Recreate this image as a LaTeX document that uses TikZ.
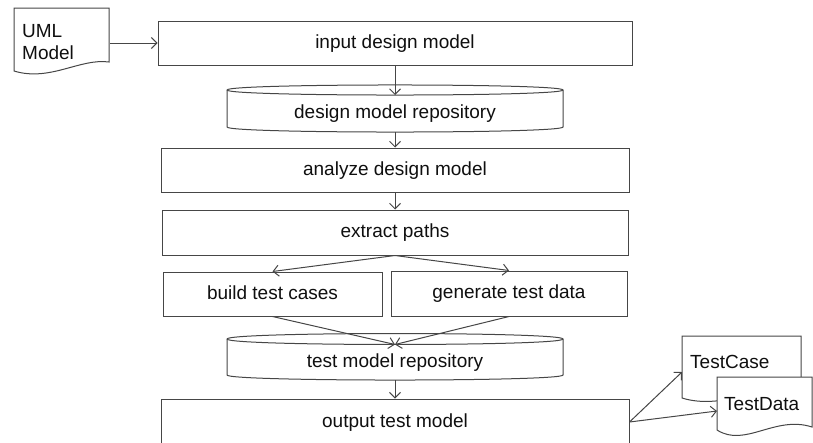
\documentclass[tikz,border=0pt]{standalone}
\usepackage{fontspec}
\setmainfont{Liberation Sans}
\usetikzlibrary{arrows.meta,calc}
\definecolor{linegray}{RGB}{70,70,70}
\definecolor{txt}{RGB}{15,15,15}
\begin{document}
\begin{tikzpicture}[x=1pt,y=-1pt,
  line/.style={draw=linegray, line width=1pt},
  lbl/.style={text=txt, font=\fontsize{19}{21}\selectfont, text height=14pt, text depth=4pt, inner sep=0pt},
  box/.style={lbl, line, fill=white, rectangle},
  arr/.style={line, -{Straight Barb[length=5.5pt,width=11pt]}},
  ]
\useasboundingbox (0,0) rectangle (813,442);
\clip (0,0) rectangle (813,442);

% UML Model document
\draw[line, fill=white] (14,8) -- (109,8) -- (109,62) .. controls (80,58) and (50,82) .. (14,71) -- cycle;
\node[lbl, text depth=0pt, text height=0pt, align=left, anchor=north west, text width=80pt, minimum height=59pt, inner xsep=8pt] (uml) at (14,8) {UML\\[1pt]Model};

% process boxes
\node[box, minimum width=474pt, minimum height=44pt] (input) at (395,43) {input design model};
\node[box, minimum width=468pt, minimum height=44pt] (analyze) at (395,170) {analyze design model};
\node[box, minimum width=466pt, minimum height=45pt] (extract) at (395,232.5) {extract paths};
\node[box, minimum width=219pt, minimum height=44pt] (build) at (272.5,294) {build test cases};
\node[box, minimum width=236pt, minimum height=45pt] (gen) at (509,293.5) {generate test data};
\node[box, minimum width=468pt, minimum height=46pt] (output) at (395,422) {output test model};

% cylinder 1: design model repository
\draw[line, fill=white] (227,90) -- (227,127) .. controls (227,133.7) and (563,133.7) .. (563,127)
  -- (563,90) .. controls (563,83.3) and (227,83.3) .. (227,90) -- cycle;
\draw[line] (227,90) .. controls (227,96.7) and (563,96.7) .. (563,90);
\node[lbl] (rep1) at (395,113) {design model repository};
\coordinate (rep1top) at (395,95);
\coordinate (rep1bot) at (395,132);

% cylinder 2: test model repository
\draw[line, fill=white] (227,339) -- (227,375) .. controls (227,381.7) and (563,381.7) .. (563,375)
  -- (563,339) .. controls (563,331.7) and (227,331.7) .. (227,339) -- cycle;
\draw[line] (227,339) .. controls (227,346.3) and (563,346.3) .. (563,339);
\node[lbl] (rep2) at (395,362) {test model repository};
\coordinate (rep2top) at (395,344.5);
\coordinate (rep2bot) at (395,380);

% output documents
\draw[line, fill=white] (682,336) -- (801,336) -- (801,394) .. controls (760,386) and (720,410) .. (682,398) -- cycle;
\node[lbl, anchor=base west, inner xsep=8pt] (tc) at (682,368) {TestCase};
\draw[line, fill=white] (717,377) -- (812,377) -- (812,427) .. controls (775,415) and (745,448) .. (717,430) -- cycle;
\node[lbl, anchor=base west, inner xsep=7pt] (td) at (717,410) {TestData};

% connectors
\draw[arr] (uml.east |- input.west) -- (input.west);
\draw[arr] (input.south) -- (rep1top);
\draw[arr] (rep1bot) -- (analyze.north);
\draw[arr] (analyze.south) -- (extract.north);
\draw[arr] (extract.south) -- (build.north);
\draw[arr] (extract.south) -- (gen.north);
\draw[arr] (build.south) -- (rep2top);
\draw[arr] (gen.south) -- (rep2top);
\draw[arr] (rep2bot) -- (output.north);
\draw[arr] (output.east) -- ($(tc.west)+(0,9)$);
\draw[arr] (output.east) -- ($(td.west)+(0,6)$);
\end{tikzpicture}
\end{document}
